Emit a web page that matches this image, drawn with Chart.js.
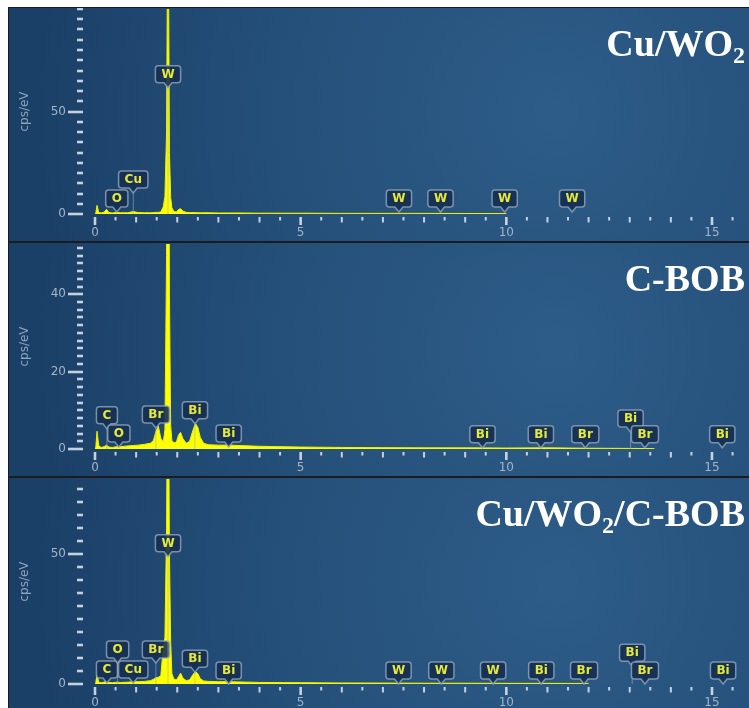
<!DOCTYPE html>
<html>
<head>
<meta charset="utf-8">
<title>EDS spectra</title>
<script src="https://cdn.jsdelivr.net/npm/chart.js@4.4.0/dist/chart.umd.min.js"></script>
<style>
  html, body { margin: 0; padding: 0; background: #fff; }
  body { width: 749px; height: 708px; overflow: hidden; position: relative; }
  #frame { position: absolute; left: 8px; top: 7px; width: 741px; height: 701px; background: #191d22; }
  canvas { position: absolute; left: 9px; }
</style>
</head>
<body>
<div id="frame"></div>
<canvas id="edsTop" width="740" height="233" style="top:8px"></canvas>
<canvas id="edsMid" width="740" height="233" style="top:243px"></canvas>
<canvas id="edsBottom" width="740" height="233" style="top:478px"></canvas>

<script>
// energy grid (keV) shared by the three spectra
const energyKeV = [0, 0.02, 0.05, 0.09, 0.15, 0.22, 0.28, 0.34, 0.42, 0.52, 0.62, 0.8, 0.93, 1.05,
  1.2, 1.35, 1.42, 1.48, 1.54, 1.6, 1.66, 1.70, 1.74, 1.775, 1.81, 1.84, 1.87, 1.92, 1.98, 2.03,
  2.08, 2.14, 2.22, 2.3, 2.38, 2.44, 2.5, 2.56, 2.64, 2.75, 3.0, 3.25, 3.5, 4, 5, 6, 7, 8, 9, 10,
  11, 12, 13, 13.6];

// counts in cps/eV
const countsCuWO2 = [0.3, 0.6, 4.2, 0.8, 0.5, 0.9, 2.3, 0.7, 0.5, 0.8, 0.6, 0.6, 1.2, 0.7,
  0.6, 0.6, 0.7, 0.8, 0.8, 1.0, 3.5, 8.5, 40, 170, 30, 8, 3, 1.2, 1.0, 2.2,
  2.6, 1.4, 0.8, 0.7, 0.7, 0.7, 0.6, 0.6, 0.6, 0.6, 0.5, 0.5, 0.5, 0.4, 0.4, 0.3, 0.3, 0.3, 0.25, 0.2,
  null, null, null, null];
const countsCBOB = [0.3, 0.6, 4.6, 0.9, 0.4, 0.6, 1.0, 0.5, 0.4, 0.6, 0.6, 0.8, 0.9, 1.0,
  1.2, 1.5, 2.2, 4.5, 5.9, 2.8, 1.8, 5, 50, 150, 40, 6, 2.2, 1.6, 1.8, 3.6,
  4.3, 2.6, 1.5, 2.0, 4.8, 6.6, 5.6, 3.0, 1.5, 1.1, 1.0, 1.0, 0.9, 0.7, 0.5, 0.4, 0.35, 0.3, 0.3, 0.25,
  0.3, 0.2, 0.15, 0.1];
const countsComposite = [0.3, 0.6, 3.8, 0.8, 0.5, 0.7, 1.3, 0.6, 0.5, 0.7, 0.6, 0.7, 0.9, 0.9,
  1.0, 1.3, 1.8, 2.4, 2.6, 3.2, 14, 18, 60, 150, 50, 16, 4, 1.8, 1.6, 2.8,
  4.2, 2.2, 1.3, 1.6, 3.6, 4.8, 4.0, 2.0, 1.2, 1.0, 0.9, 0.9, 0.8, 0.6, 0.5, 0.4, 0.35, 0.3, 0.3, 0.25,
  0.25, 0.2, null, null];

// element markers: name, line energy (keV), level of the box bottom (cps/eV)
const markerNamesCuWO2 = ['O', 'Cu', 'W', 'W', 'W', 'W', 'W'];
const markerKeVCuWO2 = [0.53, 0.93, 1.775, 7.39, 8.40, 9.96, 11.6];
const markerLevelCuWO2 = [3.4, 12.7, 64, 3.4, 3.4, 3.4, 3.4];

const markerNamesCBOB = ['C', 'O', 'Br', 'Bi', 'Bi', 'Bi', 'Bi', 'Br', 'Bi', 'Br', 'Bi'];
const markerKeVCBOB = [0.29, 0.58, 1.48, 2.43, 3.25, 9.42, 10.84, 11.92, 13.02, 13.37, 15.25];
const markerLevelCBOB = [6.5, 1.8, 6.7, 7.8, 1.8, 1.6, 1.6, 1.6, 5.7, 1.6, 1.6];

const markerNamesComposite = ['C', 'O', 'Cu', 'Br', 'W', 'Bi', 'Bi', 'W', 'W', 'W', 'Bi', 'Br', 'Bi', 'Br', 'Bi'];
const markerKeVComposite = [0.29, 0.55, 0.93, 1.48, 1.775, 2.43, 3.25, 7.38, 8.42, 9.68, 10.85, 11.89, 13.06, 13.37, 15.27];
const markerLevelComposite = [2.3, 10, 2.3, 10, 51, 6.5, 1.9, 1.9, 1.9, 1.9, 1.9, 1.9, 8.8, 1.9, 1.9];

const panelTitles = ['Cu/WO₂', 'C-BOB', 'Cu/WO₂/C-BOB'];
const yMaxes = [100, 53, 79];
const ySteps = [5, 2, 5];
const yTickLabels = [[0, 50], [0, 20, 40], [0, 50]];
const xTickLabels = [0, 5, 10, 15];
const xMaxKeV = 15.9;

Chart.defaults.font.family = '"DejaVu Sans", sans-serif';

const TICK_COLOR = 'rgba(214, 224, 234, 0.9)';
const LABEL_COLOR = '#a3b4c7';
const LABEL_FONT = '12px "DejaVu Sans", sans-serif';

// dark blue panel with a soft glow towards the upper right
const backdrop = {
  id: 'backdrop',
  beforeDraw(chart) {
    const { ctx, width, height } = chart;
    const g = ctx.createRadialGradient(width * 0.74, height * 0.45, 10, width * 0.74, height * 0.45, 520);
    g.addColorStop(0, 'rgb(45, 92, 136)');
    g.addColorStop(0.55, 'rgb(36, 79, 121)');
    g.addColorStop(1, 'rgb(27, 64, 104)');
    ctx.save();
    ctx.fillStyle = g;
    ctx.fillRect(0, 0, width, height);
    ctx.restore();
  }
};

// tick marks and tick labels for both axes (labelled ticks are drawn longer)
const tickMarks = {
  id: 'tickMarks',
  afterDraw(chart, args, opts) {
    const { ctx, scales: { x, y }, chartArea } = chart;
    ctx.save();
    ctx.font = LABEL_FONT;
    const right = chartArea.left - 12;
    y.ticks.forEach(t => {
      const py = Math.round(y.getPixelForValue(t.value));
      const major = opts.yLabels.includes(t.value);
      const len = major ? 15 : 6;
      ctx.fillStyle = TICK_COLOR;
      ctx.fillRect(right - len, py - 1.3, len, 2.6);
      if (major) {
        ctx.fillStyle = LABEL_COLOR;
        ctx.textAlign = 'right';
        ctx.textBaseline = 'middle';
        ctx.fillText(String(t.value), right - len - 2, py);
      }
    });
    const top = chartArea.bottom + 3;
    x.ticks.forEach(t => {
      const px = x.getPixelForValue(t.value);
      const v = t.value;
      let len = 3.5, w = 2;
      const labelled = xTickLabels.some(l => Math.abs(l - v) < 1e-6);
      if (labelled) { len = 8; w = 2.6; }
      else if (Math.abs(v - Math.round(v)) < 1e-6) { len = 5.5; }
      ctx.fillStyle = TICK_COLOR;
      ctx.fillRect(px - w / 2, top, w, len);
      if (labelled) {
        ctx.fillStyle = LABEL_COLOR;
        ctx.textAlign = 'center';
        ctx.textBaseline = 'middle';
        ctx.fillText(String(Math.round(v)), px, chartArea.bottom + 19);
      }
    });
    ctx.restore();
  }
};

function drawMarker(ctx, name, x, bottom, baseY) {
  ctx.font = 'bold 12px "DejaVu Sans", sans-serif';
  const w = Math.max(21, ctx.measureText(name).width + 12);
  const h = 17, r = 3, notch = 4, tipH = 5;
  const left = x - w / 2, top = bottom - h, tip = bottom + tipH;

  if (baseY - tip > 2) {
    ctx.strokeStyle = 'rgba(150, 172, 198, 0.6)';
    ctx.lineWidth = 1;
    ctx.beginPath();
    ctx.moveTo(x, tip);
    ctx.lineTo(x, baseY);
    ctx.stroke();
  }

  ctx.beginPath();
  ctx.moveTo(left + r, top);
  ctx.lineTo(left + w - r, top);
  ctx.arcTo(left + w, top, left + w, top + r, r);
  ctx.lineTo(left + w, bottom - r);
  ctx.arcTo(left + w, bottom, left + w - r, bottom, r);
  ctx.lineTo(x + notch, bottom);
  ctx.lineTo(x, tip);
  ctx.lineTo(x - notch, bottom);
  ctx.lineTo(left + r, bottom);
  ctx.arcTo(left, bottom, left, bottom - r, r);
  ctx.lineTo(left, top + r);
  ctx.arcTo(left, top, left + r, top, r);
  ctx.closePath();
  ctx.fillStyle = 'rgba(21, 47, 80, 0.9)';
  ctx.fill();
  ctx.strokeStyle = 'rgba(146, 166, 190, 0.8)';
  ctx.lineWidth = 1.5;
  ctx.stroke();

  ctx.fillStyle = '#e6e83a';
  ctx.textAlign = 'center';
  ctx.textBaseline = 'middle';
  ctx.fillText(name, x, top + h / 2 + 0.5);
}

const elementMarkers = {
  id: 'elementMarkers',
  afterDatasetsDraw(chart, args, opts) {
    const { ctx, scales: { x, y } } = chart;
    const baseY = y.getPixelForValue(0);
    ctx.save();
    opts.names.forEach((name, i) => {
      drawMarker(ctx, name, x.getPixelForValue(opts.keV[i]), y.getPixelForValue(opts.level[i]), baseY);
    });
    ctx.restore();
  }
};

// sample name in the top right corner, '₂' is set as a subscript
const sampleTitle = {
  id: 'sampleTitle',
  afterDraw(chart, args, opts) {
    const { ctx } = chart;
    const runs = [];
    for (const part of opts.text.split(/(₂)/)) {
      if (!part) continue;
      runs.push(part === '₂' ? { t: '2', sub: true } : { t: part, sub: false });
    }
    const mainFont = 'bold 38px "Liberation Serif", "Times New Roman", serif';
    const subFont = 'bold 24px "Liberation Serif", "Times New Roman", serif';
    let total = 0;
    runs.forEach(r => {
      ctx.font = r.sub ? subFont : mainFont;
      r.w = ctx.measureText(r.t).width;
      total += r.w;
    });
    ctx.save();
    ctx.fillStyle = '#ffffff';
    ctx.textBaseline = 'alphabetic';
    ctx.textAlign = 'left';
    let cx = chart.width - 4 - total;
    runs.forEach(r => {
      ctx.font = r.sub ? subFont : mainFont;
      ctx.fillText(r.t, cx, 48 + (r.sub ? 7 : 0));
      cx += r.w;
    });
    ctx.restore();
  }
};

function makeSpectrum(canvasId, panel, counts, names, keV, level) {
  const points = energyKeV.map((e, i) => ({ x: e, y: counts[i] }));
  return new Chart(document.getElementById(canvasId), {
    type: 'line',
    data: {
      datasets: [{
        data: points,
        borderColor: '#eef200',
        backgroundColor: '#ffff00',
        borderWidth: 1,
        fill: 'origin',
        pointRadius: 0,
        tension: 0,
        spanGaps: false
      }]
    },
    options: {
      responsive: false,
      animation: false,
      devicePixelRatio: 1,
      layout: { padding: { top: 1, right: 0, bottom: 0, left: 0 } },
      scales: {
        x: {
          type: 'linear',
          min: 0,
          max: xMaxKeV,
          grid: { display: false, drawTicks: false },
          border: { display: false },
          ticks: { display: false, stepSize: 0.5, includeBounds: false, autoSkip: false },
          afterFit: s => { s.height = 27; }
        },
        y: {
          min: 0,
          max: yMaxes[panel],
          grid: { display: false, drawTicks: false },
          border: { display: false },
          ticks: { display: false, stepSize: ySteps[panel], includeBounds: false, autoSkip: false },
          title: {
            display: true,
            text: 'cps/eV',
            color: '#8ea5be',
            font: { size: 12 },
            padding: { top: 9, bottom: 0 }
          },
          afterFit: s => { s.width = 86; }
        }
      },
      plugins: {
        legend: { display: false },
        tooltip: { enabled: false },
        tickMarks: { yLabels: yTickLabels[panel] },
        elementMarkers: { names: names, keV: keV, level: level },
        sampleTitle: { text: panelTitles[panel] }
      }
    },
    plugins: [backdrop, tickMarks, elementMarkers, sampleTitle]
  });
}

makeSpectrum('edsTop', 0, countsCuWO2, markerNamesCuWO2, markerKeVCuWO2, markerLevelCuWO2);
makeSpectrum('edsMid', 1, countsCBOB, markerNamesCBOB, markerKeVCBOB, markerLevelCBOB);
makeSpectrum('edsBottom', 2, countsComposite, markerNamesComposite, markerKeVComposite, markerLevelComposite);
</script>
</body>
</html>
